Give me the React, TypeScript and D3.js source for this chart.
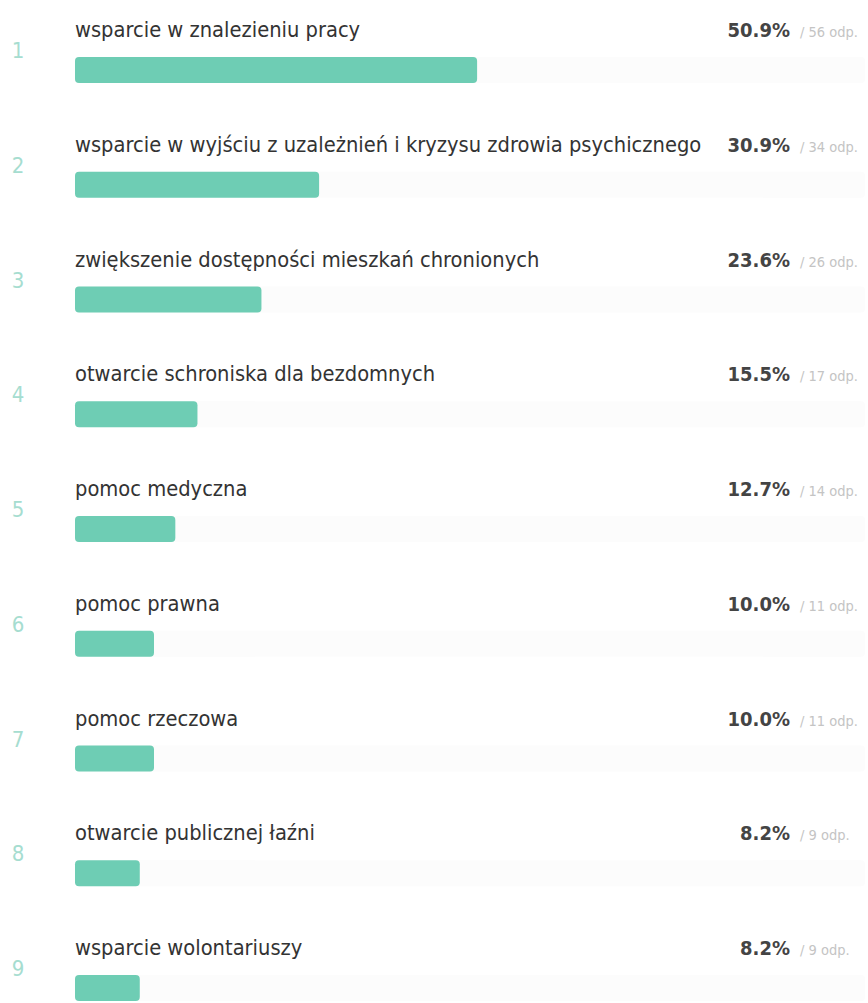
import { useEffect, useRef } from 'react'
import * as d3 from 'd3'

// answers, share of respondents and number of answers
const categories = [
  'wsparcie w znalezieniu pracy',
  'wsparcie w wyjściu z uzależnień i kryzysu zdrowia psychicznego',
  'zwiększenie dostępności mieszkań chronionych',
  'otwarcie schroniska dla bezdomnych',
  'pomoc medyczna',
  'pomoc prawna',
  'pomoc rzeczowa',
  'otwarcie publicznej łaźni',
  'wsparcie wolontariuszy',
]
const percents = [50.9, 30.9, 23.6, 15.5, 12.7, 10.0, 10.0, 8.2, 8.2]
const counts = [56, 34, 26, 17, 14, 11, 11, 9, 9]

const WIDTH = 868
const HEIGHT = 1003
const FONT = '"DejaVu Sans", sans-serif'

const App = () => {
  const ref = useRef<SVGSVGElement | null>(null)

  useEffect(() => {
    document.body.style.margin = '0'
    const svg = d3.select(ref.current)
    svg.selectAll('*').remove()

    // row positions
    const y = d3
      .scalePoint<number>()
      .domain(d3.range(categories.length))
      .range([0, 918])

    // bar length, 0-100%
    const x = d3.scaleLinear().domain([0, 100]).range([75, 865])

    const rows = svg
      .selectAll('g.row')
      .data(categories)
      .join('g')
      .attr('class', 'row')
      .attr('transform', (_, i) => `translate(0,${y(i)})`)

    // track, barely visible
    rows
      .append('rect')
      .attr('x', x(0))
      .attr('y', 57)
      .attr('width', x(100) - x(0))
      .attr('height', 26)
      .attr('rx', 4)
      .attr('fill', '#fcfcfc')

    rows
      .append('rect')
      .attr('x', x(0))
      .attr('y', 57)
      .attr('width', (_, i) => x(percents[i]) - x(0))
      .attr('height', 26)
      .attr('rx', 4)
      .attr('fill', '#6ecdb4')

    // rank number
    rows
      .append('text')
      .attr('x', 18)
      .attr('y', 58)
      .attr('text-anchor', 'middle')
      .attr('font-family', FONT)
      .attr('font-stretch', 'condensed')
      .attr('font-size', 22)
      .attr('fill', '#a6ddd0')
      .text((_, i) => i + 1)

    // label
    rows
      .append('text')
      .attr('x', 75)
      .attr('y', 37)
      .attr('font-family', FONT)
      .attr('font-stretch', 'condensed')
      .attr('font-size', 21.7)
      .attr('fill', '#333')
      .text((d) => d)

    // percent
    rows
      .append('text')
      .attr('x', 790)
      .attr('y', 37)
      .attr('text-anchor', 'end')
      .attr('font-family', FONT)
      .attr('font-stretch', 'condensed')
      .attr('font-weight', 'bold')
      .attr('font-size', 20)
      .attr('fill', '#444')
      .text((_, i) => `${percents[i].toFixed(1)}%`)

    // count
    rows
      .append('text')
      .attr('x', 800)
      .attr('y', 37)
      .attr('font-family', FONT)
      .attr('font-stretch', 'condensed')
      .attr('font-size', 14.5)
      .attr('fill', '#c4c4c4')
      .text((_, i) => `/ ${counts[i]} odp.`)
  }, [])

  return <svg ref={ref} width={WIDTH} height={HEIGHT} style={{ display: 'block', background: '#fff' }} />
}

export default App
